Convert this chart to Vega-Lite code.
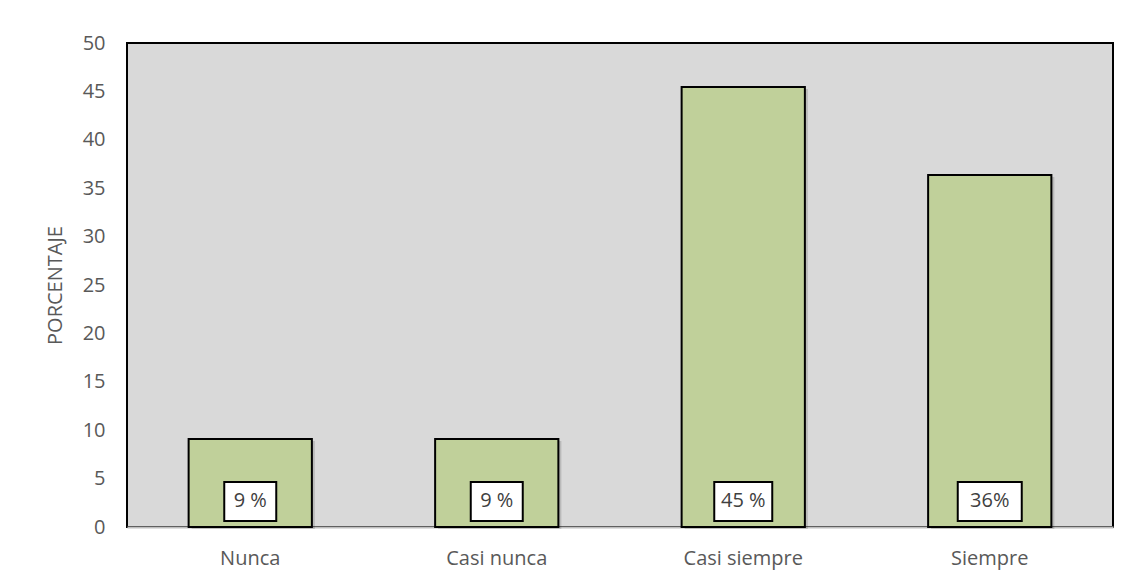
{
  "$schema": "https://vega.github.io/schema/vega-lite/v6.json",
  "width": 986,
  "height": 484,
  "autosize": {"type": "none"},
  "padding": {"left": 127, "top": 43, "right": 20, "bottom": 55},
  "background": "white",
  "config": {
    "font": "Open Sans",
    "view": {"fill": "#d9d9d9", "stroke": "#000000", "strokeWidth": 2}
  },
  "data": {
    "values": [
      {"respuesta": "Nunca", "porcentaje": 9.09, "etiqueta": "9 %"},
      {"respuesta": "Casi nunca", "porcentaje": 9.09, "etiqueta": "9 %"},
      {"respuesta": "Casi siempre", "porcentaje": 45.45, "etiqueta": "45 %"},
      {"respuesta": "Siempre", "porcentaje": 36.36, "etiqueta": "36%"}
    ]
  },
  "encoding": {
    "x": {
      "field": "respuesta",
      "type": "nominal",
      "sort": null,
      "scale": {"paddingInner": 0.5, "paddingOuter": 0.25},
      "axis": {
        "title": null,
        "labelAngle": 0,
        "labelFontSize": 20,
        "labelColor": "#595959",
        "labelPadding": 21,
        "ticks": false,
        "domainColor": "#bfbfbf",
        "domainWidth": 2
      }
    }
  },
  "layer": [
    {
      "mark": {"type": "bar", "fill": "#000000", "opacity": 0.14, "xOffset": 3, "yOffset": 2},
      "encoding": {
        "y": {
          "field": "porcentaje",
          "type": "quantitative",
          "scale": {"domain": [0, 50]},
          "axis": {
            "title": "PORCENTAJE",
            "titleFontSize": 20,
            "titleFontWeight": "normal",
            "titleColor": "#595959",
            "titlePadding": 17,
            "values": [0, 5, 10, 15, 20, 25, 30, 35, 40, 45, 50],
            "labelFontSize": 20,
            "labelColor": "#595959",
            "labelPadding": 22,
            "ticks": false,
            "domain": false,
            "grid": false
          }
        }
      }
    },
    {
      "mark": {"type": "bar", "fill": "#c0d09a", "stroke": "#000000", "strokeWidth": 2},
      "encoding": {
        "y": {"field": "porcentaje", "type": "quantitative"}
      }
    },
    {
      "mark": {"type": "bar", "fill": "#ffffff", "stroke": "#000000", "strokeWidth": 2},
      "encoding": {
        "y": {"datum": 0.62},
        "y2": {"datum": 4.65},
        "size": {
          "field": "etiqueta",
          "type": "nominal",
          "scale": {"domain": ["9 %", "45 %", "36%"], "range": [52, 64, 59]},
          "legend": null
        }
      }
    },
    {
      "mark": {"type": "text", "fontSize": 20, "color": "#404040", "baseline": "middle"},
      "encoding": {
        "y": {"datum": 2.65},
        "text": {"field": "etiqueta"}
      }
    }
  ]
}
